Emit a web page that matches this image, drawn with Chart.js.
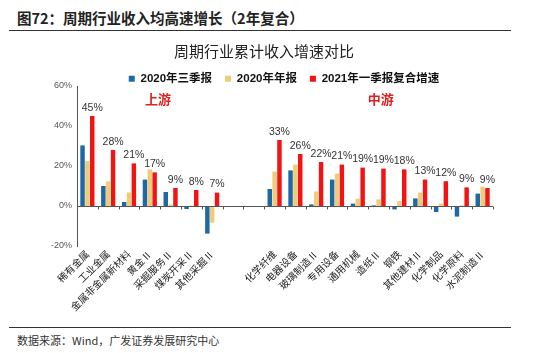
<!DOCTYPE html>
<html>
<head>
<meta charset="utf-8">
<script src="https://cdn.jsdelivr.net/npm/chart.js@4.4.0/dist/chart.umd.min.js"></script>
<style>
body { margin: 0; background: #fff; font-family: "Noto Sans CJK SC", sans-serif; }
#wrap { position: relative; width: 550px; height: 353px; overflow: hidden; }
#head { position: absolute; left: 17px; top: 7px; font-size: 14.5px; font-weight: bold; color: #222; }
#line1 { position: absolute; left: 9px; top: 30px; width: 502px; height: 0; border-top: 1.5px solid #333; }
#title { position: absolute; left: 164px; width: 200px; top: 40px; text-align: center; font-size: 15px; color: #222; }
#line2 { position: absolute; left: 9px; top: 327px; width: 502px; height: 0; border-top: 1.5px solid #333; }
#src { position: absolute; left: 17px; top: 332px; font-size: 11px; color: #333; }
#box { position: absolute; left: 0; top: 36px; width: 550px; height: 290px; }
</style>
</head>
<body>
<div id="wrap">
  <div id="head">图72：周期行业收入均高速增长（2年复合）</div>
  <div id="line1"></div>
  <div id="box"><canvas id="revChart"></canvas></div>
  <div id="title">周期行业累计收入增速对比</div>
  <div id="line2"></div>
  <div id="src">数据来源：Wind，广发证券发展研究中心</div>
</div>
<script>
// categories (two empty slots split upstream / midstream)
const categories = ['稀有金属', '工业金属', '金属非金属新材料', '黄金Ⅱ', '采掘服务Ⅱ', '煤炭开采Ⅱ', '其他采掘Ⅱ',
    '', '',
    '化学纤维', '电器设备', '玻璃制造Ⅱ', '专用设备', '通用机械', '造纸Ⅱ', '钢铁', '其他建材Ⅱ', '化学制品', '化学原料', '水泥制造Ⅱ'];

const q3_2020 = [30.3, 10, 2, 13.2, 7, -1.5, -13.8, null, null,
    8.5, 17.8, 0.8, 13.2, 1.2, 0.3, -1.7, 3.8, -3, -5.3, 6.2];
const annual_2020 = [22.5, 12.3, 6.8, 18.3, 0.7, 0.2, -8.3, null, null,
    17.2, 20.7, 7.3, 16.2, 3.7, 3.3, 2.5, 6.7, 1.2, 0.3, 9.7];
const q1_2021 = [45, 28, 21.3, 16.8, 9, 8, 6.7, null, null,
    33, 26, 22, 20.7, 19.2, 18.7, 18.3, 13.2, 12.4, 9.3, 9];

const seriesNames = ['2020年三季报', '2020年年报', '2021年一季报复合增速'];
const yTicks = [-20, 0, 20, 40, 60];

// extra drawing: zero line with ticks, red value labels, region tags
const extras = {
    id: 'extras',
    afterDatasetsDraw(chart) {
        const ctx = chart.ctx;
        const x = chart.scales.x, y = chart.scales.y;
        const y0 = Math.round(y.getPixelForValue(0)) + 0.5;
        ctx.save();
        ctx.strokeStyle = '#555';
        ctx.lineWidth = 1;
        ctx.beginPath();
        ctx.moveTo(chart.chartArea.left, y0);
        ctx.lineTo(chart.chartArea.right, y0);
        const step = x.getPixelForValue(1) - x.getPixelForValue(0);
        for (let i = 0; i <= categories.length; i++) {
            const px = Math.round(x.getPixelForValue(i) - step / 2) + 0.5;
            ctx.moveTo(px, y0);
            ctx.lineTo(px, y0 + 3);
        }
        ctx.stroke();

        // red series labels
        const meta = chart.getDatasetMeta(2);
        ctx.fillStyle = '#333';
        ctx.font = '10.5px Arial, "Liberation Sans", sans-serif';
        ctx.textAlign = 'center';
        ctx.textBaseline = 'bottom';
        meta.data.forEach((bar, i) => {
            if (q1_2021[i] == null) return;
            ctx.fillText(Math.round(q1_2021[i]) + '%', bar.x, bar.y - 3);
        });

        // region tags
        ctx.fillStyle = '#e02020';
        ctx.font = 'bold 13px "Noto Sans CJK SC", sans-serif';
        ctx.textBaseline = 'middle';
        ctx.fillText('上游', x.getPixelForValue(3.4), y.getPixelForValue(53.5));
        ctx.fillText('中游', x.getPixelForValue(14.1), y.getPixelForValue(53.5));
        ctx.restore();
    }
};

var ctxRev = document.getElementById('revChart').getContext('2d');
var revChart = new Chart(ctxRev, {
    type: 'bar',
    data: {
        labels: categories,
        datasets: [
            { label: seriesNames[0], data: q3_2020, backgroundColor: '#1f68a6' },
            { label: seriesNames[1], data: annual_2020, backgroundColor: '#efcb7a' },
            { label: seriesNames[2], data: q1_2021, backgroundColor: '#f01414' }
        ]
    },
    options: {
        responsive: true,
        maintainAspectRatio: false,
        animation: false,
        layout: { padding: { left: 18, right: 0, top: 24, bottom: 0 } },
        datasets: { bar: { categoryPercentage: 0.7, barPercentage: 0.92 } },
        plugins: {
            legend: {
                display: true,
                position: 'top',
                maxHeight: 26,
                labels: {
                    boxWidth: 6,
                    boxHeight: 6,
                    padding: 13,
                    color: '#111',
                    font: { size: 11.5, weight: 'bold', family: 'Arial, "Noto Sans CJK SC", sans-serif' }
                }
            },
            tooltip: { enabled: false }
        },
        scales: {
            x: {
                grid: { display: false, drawTicks: false },
                border: { display: false },
                ticks: {
                    autoSkip: false,
                    maxRotation: 45,
                    minRotation: 45,
                    color: '#222',
                    padding: 2,
                    font: { size: 10, family: '"Noto Sans CJK SC", sans-serif' }
                },
                afterFit: s => { s.height = 80; }
            },
            y: {
                min: -20,
                max: 60,
                afterBuildTicks: s => { s.ticks = yTicks.map(v => ({ value: v })); },
                grid: { display: false, drawTicks: true, tickLength: 3, color: '#555' },
                border: { display: true, color: '#555' },
                ticks: {
                    color: '#555',
                    padding: 2,
                    font: { size: 9, family: 'Arial, sans-serif' },
                    callback: v => v + '%'
                },
                afterFit: s => { s.width = 59; }
            },
            // empty right axis only reserves the right margin
            yRight: {
                position: 'right',
                grid: { display: false },
                border: { display: false },
                ticks: { display: false },
                afterFit: s => { s.width = 57; }
            }
        }
    },
    plugins: [extras]
});
</script>
</body>
</html>
